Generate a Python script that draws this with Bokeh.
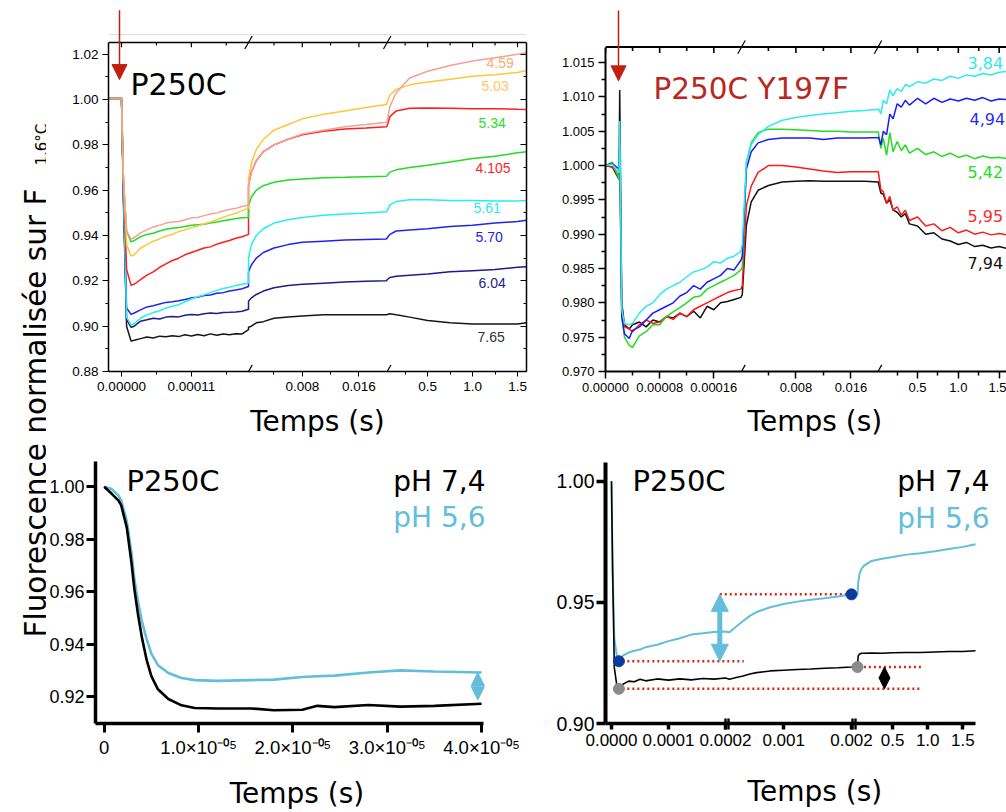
from bokeh.plotting import figure
from bokeh.models import Range1d, LinearAxis, FixedTicker, PrintfTickFormatter, Label, Arrow, NormalHead
from bokeh.layouts import row, column
from bokeh.embed import file_html
from bokeh.resources import INLINE
from bokeh.core.properties import value

# ============================ DATA ============================
# ---- top-left panel : P250C, several pH values (broken time axis, 3 segments) ----
TL_T1 = [-0.00002, 0.0, 0.000003, 0.000008, 0.000015, 0.00002, 0.00003, 0.00004, 0.00005, 0.00006,
         0.00007, 0.00008, 0.00009, 0.0001, 0.00011, 0.00012, 0.00013, 0.00014, 0.00015, 0.00016,
         0.00017, 0.00018, 0.00019, 0.0002]
TL_T2 = [0.0004, 0.0008, 0.0015, 0.0025, 0.004, 0.006, 0.008, 0.011, 0.014, 0.017, 0.0199]
TL_T3 = [0.05, 0.08, 0.15, 0.3, 0.5, 0.75, 1.0, 1.25, 1.5, 1.6]

TL_459 = [1.0005, 1.0005, 0.965, 0.942, 0.9385, 0.939, 0.9412, 0.9425, 0.9438, 0.9445, 0.9455, 0.946,
          0.9462, 0.947, 0.9478, 0.948, 0.9488, 0.9495, 0.950, 0.9508, 0.9515, 0.952, 0.9528, 0.9535,
          0.962, 0.968, 0.973, 0.977, 0.980, 0.9825, 0.9848, 0.9865, 0.988, 0.989, 0.990,
          0.9905, 0.997, 1.003, 1.0095, 1.0125, 1.015, 1.017, 1.0185, 1.020, 1.0207]
TL_503 = [1.0005, 1.0005, 0.965, 0.936, 0.931, 0.9315, 0.9345, 0.936, 0.9375, 0.9385, 0.9398, 0.9405,
          0.9418, 0.9425, 0.9435, 0.9442, 0.9452, 0.946, 0.947, 0.948, 0.949, 0.9498, 0.951, 0.952,
          0.965, 0.972, 0.978, 0.9825, 0.9865, 0.989, 0.9915, 0.9935, 0.995, 0.9965, 0.9978,
          0.999, 1.002, 1.0045, 1.0065, 1.0078, 1.009, 1.0103, 1.011, 1.012, 1.0128]
TL_534 = [1.0005, 1.0005, 0.965, 0.925, 0.918, 0.9185, 0.9205, 0.9225, 0.924, 0.926, 0.9275, 0.929,
          0.930, 0.9315, 0.9325, 0.9335, 0.9345, 0.935, 0.9362, 0.937, 0.9378, 0.9388, 0.9395, 0.9405,
          0.962, 0.968, 0.973, 0.977, 0.980, 0.9825, 0.9845, 0.986, 0.987, 0.9875, 0.988,
          0.9885, 0.9925, 0.995, 0.9962, 0.9963, 0.9962, 0.996, 0.996, 0.9957, 0.9956]
TL_4105 = [1.0005, 1.0005, 0.965, 0.942, 0.9372, 0.9378, 0.9395, 0.9405, 0.941, 0.942, 0.9428, 0.9432,
           0.9435, 0.944, 0.9445, 0.9448, 0.945, 0.9455, 0.946, 0.9465, 0.947, 0.9475, 0.9478, 0.948,
           0.953, 0.957, 0.960, 0.962, 0.9635, 0.9645, 0.965, 0.9655, 0.9657, 0.966, 0.9662,
           0.9665, 0.968, 0.969, 0.970, 0.971, 0.9725, 0.974, 0.975, 0.9765, 0.977]
TL_561 = [1.0005, 1.0005, 0.96, 0.904, 0.9005, 0.9012, 0.9035, 0.905, 0.906, 0.9068, 0.908, 0.9088,
          0.9095, 0.9108, 0.912, 0.913, 0.9138, 0.9148, 0.9158, 0.9166, 0.9172, 0.918, 0.9185, 0.919,
          0.930, 0.936, 0.940, 0.943, 0.9455, 0.947, 0.948, 0.949, 0.9495, 0.950, 0.9505,
          0.951, 0.9535, 0.955, 0.9558, 0.9558, 0.9555, 0.9555, 0.9553, 0.9553, 0.9555]
TL_570 = [1.0005, 1.0005, 0.96, 0.908, 0.9052, 0.9058, 0.9072, 0.9085, 0.909, 0.9098, 0.9105, 0.9108,
          0.9112, 0.9118, 0.9125, 0.9128, 0.9135, 0.9138, 0.9145, 0.9148, 0.9155, 0.916, 0.9165, 0.9175,
          0.924, 0.927, 0.930, 0.9325, 0.9345, 0.936, 0.937, 0.9375, 0.938, 0.9383, 0.9385,
          0.939, 0.9405, 0.942, 0.9425, 0.943, 0.944, 0.9445, 0.9455, 0.9462, 0.9468]
TL_604 = [1.0005, 1.0005, 0.958, 0.903, 0.8995, 0.900, 0.9022, 0.9028, 0.9035, 0.9032, 0.904, 0.9043,
          0.9041, 0.9048, 0.9052, 0.9049, 0.9055, 0.9058, 0.9056, 0.906, 0.9061, 0.9063, 0.9066, 0.9075,
          0.911, 0.9125, 0.914, 0.9155, 0.917, 0.918, 0.9185, 0.919, 0.9195, 0.9198, 0.920,
          0.9205, 0.9215, 0.922, 0.9225, 0.923, 0.924, 0.9245, 0.925, 0.926, 0.9262]
TL_765 = [1.0005, 1.0005, 0.955, 0.900, 0.8935, 0.8938, 0.8945, 0.8952, 0.8948, 0.8956, 0.8953, 0.8958,
          0.8954, 0.8962, 0.8957, 0.8963, 0.8958, 0.8966, 0.896, 0.8965, 0.8962, 0.8967, 0.8966, 0.8985,
          0.8995, 0.900, 0.9015, 0.902, 0.9035, 0.904, 0.9045, 0.905, 0.905, 0.905, 0.905,
          0.9052, 0.9055, 0.905, 0.904, 0.9025, 0.9015, 0.901, 0.901, 0.901, 0.9015]
TL_LABELS = ["4.59", "5.03", "5.34", "4.105", "5.61", "5.70", "6.04", "7.65"]
TL_YTICKS = [0.88, 0.90, 0.92, 0.94, 0.96, 0.98, 1.00, 1.02]
TL_YMINOR = [0.89, 0.91, 0.93, 0.95, 0.97, 0.99, 1.01]
TL_XTICKS = [(0, 0.0, "0.00000"), (0, 0.00011, "0.00011"), (1, 0.008, "0.008"), (1, 0.016, "0.016"),
             (2, 0.5, "0.5"), (2, 1.0, "1.0"), (2, 1.5, "1.5")]
TL_XMINOR = [(0, 0.000055), (0, 0.000165), (1, 0.004), (1, 0.012), (2, 0.25), (2, 0.75), (2, 1.25)]

# ---- top-right panel : P250C Y197F ----
TR_T1 = [0.0, 0.00001, 0.00002, 0.000021, 0.000024, 0.000028, 0.000035, 0.00004, 0.00005, 0.00006,
         0.00007, 0.00008, 0.00009, 0.0001, 0.00011, 0.00012, 0.00013, 0.00014, 0.00015, 0.00016,
         0.00017, 0.00018, 0.00019, 0.0002]
TR_T2 = [0.0002, 0.0008, 0.0015, 0.0025, 0.004, 0.006, 0.008, 0.01, 0.012, 0.014, 0.016, 0.018, 0.02]
TR_T3 = [0.02, 0.05, 0.08, 0.12, 0.16, 0.2, 0.25, 0.3, 0.35, 0.4, 0.5, 0.6, 0.7, 0.8, 0.9, 1.0,
         1.1, 1.2, 1.3, 1.4, 1.5, 1.6]
TR_384 = [1.000, 1.0002, 0.999, 1.0065, 0.979, 0.977, 0.9768, 0.977, 0.9785, 0.9795, 0.980, 0.9812,
          0.982, 0.9825, 0.983, 0.9838, 0.9845, 0.9848, 0.9852, 0.986, 0.9858, 0.9865, 0.9868, 0.9875,
          0.9885, 1.0005, 1.003, 1.0045, 1.0057, 1.0066, 1.007, 1.0073, 1.0075, 1.0077, 1.0079, 1.008, 1.0082,
          1.0083, 1.0075, 1.0095, 1.009, 1.011, 1.0102, 1.0112, 1.0108, 1.0118, 1.0115, 1.0122, 1.012,
          1.0126, 1.0124, 1.013, 1.0127, 1.0132, 1.013, 1.0134, 1.0132, 1.0136, 1.0137]
TR_494 = [1.000, 1.0003, 0.9995, 1.003, 0.978, 0.9755, 0.9748, 0.976, 0.9765, 0.9775, 0.9785, 0.979,
          0.9795, 0.980, 0.981, 0.9815, 0.9825, 0.982, 0.983, 0.9835, 0.984, 0.985, 0.9848, 0.9862,
          0.9868, 0.9995, 1.002, 1.0033, 1.0038, 1.004, 1.004, 1.004, 1.0038, 1.004, 1.004, 1.004, 1.0041,
          1.0042, 1.003, 1.005, 1.0045, 1.0075, 1.0068, 1.009, 1.0085, 1.0095, 1.0088, 1.0098, 1.009,
          1.0098, 1.0092, 1.0097, 1.0094, 1.0098, 1.0095, 1.0099, 1.0094, 1.0097, 1.0096]
TR_542 = [1.000, 1.0005, 0.998, 1.002, 0.978, 0.975, 0.9738, 0.9735, 0.9752, 0.9758, 0.9768, 0.9768,
          0.978, 0.9787, 0.9793, 0.980, 0.9808, 0.981, 0.982, 0.9825, 0.983, 0.9835, 0.984, 0.9848,
          0.9852, 1.0005, 1.0033, 1.0048, 1.0053, 1.0053, 1.0052, 1.0051, 1.005, 1.005, 1.0049, 1.0049, 1.0049,
          1.0048, 1.0025, 1.004, 1.0015, 1.0048, 1.002, 1.0035, 1.0022, 1.003, 1.0018, 1.0025, 1.0016,
          1.002, 1.0013, 1.0018, 1.0012, 1.0015, 1.001, 1.0014, 1.0011, 1.0012, 1.001]
TR_595 = [1.000, 0.9998, 0.9985, 1.003, 0.979, 0.9765, 0.9762, 0.9758, 0.9768, 0.9775, 0.977, 0.9772,
          0.978, 0.9776, 0.9785, 0.978, 0.979, 0.9795, 0.980, 0.9805, 0.981, 0.9815, 0.9818, 0.982,
          0.9825, 0.9942, 0.997, 0.999, 1.000, 1.000, 0.9998, 0.9995, 0.9992, 0.999, 0.9991, 0.9991, 0.9991,
          0.999, 0.9965, 0.9962, 0.9945, 0.9955, 0.9935, 0.994, 0.9928, 0.9935, 0.992, 0.9925, 0.9912,
          0.9915, 0.9905, 0.991, 0.9902, 0.9906, 0.990, 0.9903, 0.9899, 0.9901, 0.9899]
TR_794 = [1.000, 0.9998, 0.998, 1.011, 0.980, 0.9768, 0.9762, 0.9768, 0.9772, 0.9765, 0.9775, 0.9772,
          0.978, 0.9778, 0.9785, 0.978, 0.9788, 0.9778, 0.9795, 0.979, 0.980, 0.9802, 0.9805, 0.9808,
          0.9812, 0.9913, 0.9947, 0.9964, 0.9971, 0.9976, 0.9977, 0.9978, 0.9977, 0.9977, 0.9977, 0.9977, 0.9976,
          0.9975, 0.996, 0.9958, 0.9945, 0.995, 0.9935, 0.9932, 0.9925, 0.993, 0.9915, 0.9912, 0.990,
          0.9902, 0.9893, 0.989, 0.9885, 0.9888, 0.9882, 0.9884, 0.988, 0.9882, 0.9879]
TR_LABELS = ["3,84", "4,94", "5,42", "5,95", "7,94"]
TR_YTICKS = [0.970, 0.975, 0.980, 0.985, 0.990, 0.995, 1.000, 1.005, 1.010, 1.015]
TR_YMINOR = [0.9725, 0.9775, 0.9825, 0.9875, 0.9925, 0.9975, 1.0025, 1.0075, 1.0125]
TR_XTICKS = [(0, 0.0, "0.00000"), (0, 0.00008, "0.00008"), (0, 0.00016, "0.00016"),
             (1, 0.008, "0.008"), (1, 0.016, "0.016"), (2, 0.5, "0.5"), (2, 1.0, "1.0"), (2, 1.5, "1.5")]
TR_XMINOR = [(0, 0.00004), (0, 0.00012), (1, 0.004), (1, 0.012), (2, 0.25), (2, 0.75), (2, 1.25)]

# ---- bottom-left panel : P250C, first 40 us ----
BL_T = [0.0, 0.8e-6, 1.5e-6, 1.8e-6, 2.4e-6, 2.9e-6, 3.2e-6, 3.6e-6, 4.0e-6, 4.5e-6, 5.0e-6, 5.7e-6,
        6.8e-6, 8.2e-6, 9.6e-6, 1.2e-5, 1.56e-5, 1.8e-5, 2.1e-5, 2.26e-5, 2.44e-5, 2.8e-5, 3.14e-5,
        3.5e-5, 4.0e-5]
BL_PH74 = [1.000, 0.9973, 0.9948, 0.993, 0.9844, 0.9708, 0.961, 0.951, 0.9425, 0.934, 0.9278, 0.9228,
           0.9191, 0.9167, 0.9157, 0.9155, 0.9155, 0.9148, 0.9150, 0.9165, 0.916, 0.9168, 0.9162,
           0.9165, 0.9173]
BL_PH56 = [1.000, 0.9991, 0.9967, 0.9948, 0.9868, 0.9745, 0.9647, 0.956, 0.9487, 0.9419, 0.9364, 0.932,
           0.929, 0.9271, 0.9263, 0.926, 0.9263, 0.9265, 0.9275, 0.9278, 0.928, 0.9292, 0.930, 0.9296,
           0.9292]
BL_XTICKS = [0.0, 1e-5, 2e-5, 3e-5, 4e-5]
BL_XLABELS = ["0", "1.0×10⁻⁰⁵", "2.0×10⁻⁰⁵", "3.0×10⁻⁰⁵", "4.0×10⁻⁰⁵"]
BL_YTICKS = [0.92, 0.94, 0.96, 0.98, 1.00]

# ---- bottom-right panel : P250C, full broken time axis ----
BR_T1 = [0.0, 0.000002, 0.000005, 0.00001, 0.000013, 0.00002, 0.00003, 0.00004, 0.00005, 0.00006,
         0.00008, 0.0001, 0.00012, 0.00014, 0.00016, 0.00018, 0.0002]
BR_T2 = [0.0002, 0.0003, 0.0004, 0.0005, 0.0006, 0.0008, 0.001, 0.0012, 0.0014, 0.0016, 0.0018, 0.002]
BR_T3 = [0.0, 0.01, 0.03, 0.06, 0.1, 0.2, 0.35, 0.5, 0.7, 0.9, 1.1, 1.3, 1.5, 1.68]
BR_PH74 = [1.000, 0.963, 0.923, 0.9147, 0.9143, 0.9162, 0.9175, 0.9172, 0.9183, 0.9176, 0.9184, 0.9179,
           0.9184, 0.918, 0.9186, 0.9183, 0.9188,
           0.9183, 0.919, 0.9196, 0.9204, 0.921, 0.9217, 0.922, 0.9223, 0.9225, 0.9228, 0.923, 0.9233,
           0.9235, 0.928, 0.9287, 0.929, 0.929, 0.9291, 0.929, 0.9292, 0.9293, 0.9293, 0.9295, 0.9297,
           0.9297, 0.930]
BR_PH56 = [1.000, 0.963, 0.935, 0.927, 0.9257, 0.928, 0.9293, 0.930, 0.9305, 0.9315, 0.9325, 0.934,
           0.9352, 0.9367, 0.9372, 0.9378, 0.938,
           0.9377, 0.940, 0.9423, 0.9444, 0.946, 0.948, 0.9493, 0.9503, 0.9511, 0.9517, 0.9524, 0.9533,
           0.9533, 0.958, 0.962, 0.964, 0.9653, 0.9671, 0.968, 0.9687, 0.9697, 0.9703, 0.9711, 0.972,
           0.9729, 0.974]
# marked points: (segment, time, value)
BR_DOTS_56 = [(0, 0.000013, 0.9257), (1, 0.002, 0.9533)]
BR_DOTS_74 = [(0, 0.000013, 0.9143), (2, 0.0, 0.9233)]
# dotted reference levels: (value, (segment, t start), (segment, t end))
BR_REFS = [(0.9257, (0, 0.000019), (1, 0.00041)), (0.9533, (0, 0.00019), (1, 0.002)),
           (0.9143, (0, 0.000019), (2, 0.9)), (0.9233, (2, 0.02), (2, 0.92))]
BR_XTICKS = [(0, 0.0, "0.0000"), (0, 0.0001, "0.0001"), (0, 0.0002, "0.0002"), (1, 0.001, "0.001"),
             (1, 0.002, "0.002"), (2, 0.5, "0.5"), (2, 1.0, "1.0"), (2, 1.5, "1.5")]
BR_YTICKS = [0.90, 0.95, 1.00]

# ============================ STYLE / GEOMETRY ============================
SANS = "Liberation Sans"
GOTH = "DejaVu Sans"
DARKRED = "#c0200f"
LBLUE = "#62bedb"
XTITLE = "Temps (s)"

# axis segments: (t0, t1, display start, display end); display unit = one frame pixel
TL_SEGS = [(-0.0000205, 0.0002, 0.0, 140.0), (0.0004, 0.02, 140.0, 278.7), (0.05, 1.6, 278.7, 418.0)]
TR_SEGS = [(0.0, 0.0002, 0.0, 135.4), (0.0, 0.02, 135.4, 272.9), (0.02, 1.6, 272.9, 401.8)]
BR_SEGS = [(-0.0000105, 0.0002, 0.0, 120.0), (0.0002, 0.002, 124.0, 246.0), (0.0, 1.68, 252.0, 370.0)]


def seg_map(segs, i, t):
    t0, t1, d0, d1 = segs[i]
    return d0 + (t - t0) * (d1 - d0) / (t1 - t0)


def seg_xs(segs, grids):
    xs = []
    for i, g in enumerate(grids):
        xs.extend(seg_map(segs, i, t) for t in g)
    return xs


class Frame:
    """Plot frame placed on the page: left/top/width/height in page pixels, plus its data ranges."""
    def __init__(self, left, top, w, h, xr, yr):
        self.left, self.top, self.w, self.h, self.xr, self.yr = left, top, w, h, xr, yr

    def x(self, px):
        return self.xr[0] + (px - self.left) / self.w * (self.xr[1] - self.xr[0])

    def y(self, py):
        return self.yr[1] - (py - self.top) / self.h * (self.yr[1] - self.yr[0])

    def dy(self, npx):
        return npx * (self.yr[1] - self.yr[0]) / self.h


def make_fig(width, height, fr, fig_left, fig_top):
    p = figure(width=width, height=height, x_range=Range1d(*fr.xr), y_range=Range1d(*fr.yr),
               output_backend="svg", toolbar_location=None, x_axis_type=None, y_axis_type=None,
               min_border_left=int(round(fr.left - fig_left)), min_border_top=int(round(fr.top - fig_top)),
               min_border_right=int(round(fig_left + width - fr.left - fr.w)),
               min_border_bottom=int(round(fig_top + height - fr.top - fr.h)))
    p.outline_line_color = None
    p.background_fill_color = "white"
    p.border_fill_color = "white"
    return p


def add_axis(p, place, ticks, minor=None, overrides=None, fmt=None, size="13px", lw=1.5,
             t_in=0, t_out=0, m_in=0, m_out=0, tw=1.0, mw=None, standoff=4, labels=True,
             bounds=None, title=None, title_standoff=0):
    ax = LinearAxis(ticker=FixedTicker(ticks=ticks, minor_ticks=minor or []))
    if fmt is not None:
        ax.formatter = PrintfTickFormatter(format=fmt)
    if not labels:
        overrides = {t: "" for t in ticks}
        size = "0px"
        standoff = 0
    if overrides:
        ax.major_label_overrides = overrides
    if bounds is not None:
        ax.bounds = bounds
    ax.axis_line_width = lw
    ax.axis_line_color = "black"
    ax.major_tick_in, ax.major_tick_out = t_in, t_out
    ax.minor_tick_in, ax.minor_tick_out = m_in, m_out
    ax.major_tick_line_width = tw
    ax.minor_tick_line_width = tw if mw is None else mw
    ax.major_tick_line_color = "black"
    ax.minor_tick_line_color = "black"
    ax.major_label_text_font = SANS
    ax.major_label_text_font_size = size
    ax.major_label_text_color = "black"
    ax.major_label_standoff = standoff
    if title:
        ax.axis_label = title
        ax.axis_label_text_font = GOTH
        ax.axis_label_text_font_size = "28px"
        ax.axis_label_text_font_style = "normal"
        ax.axis_label_text_color = "black"
        ax.axis_label_standoff = title_standoff
    p.add_layout(ax, place)
    return ax


def top_edge(p, fr, y_line, d0, d1, ticks, minors, maj_px, min_px, lw):
    """Upper edge of the plot box with its inward ticks."""
    p.segment(x0=[d0], y0=[y_line], x1=[d1], y1=[y_line], line_color="black", line_width=lw)
    p.segment(x0=ticks, y0=[y_line] * len(ticks), x1=ticks, y1=[y_line - fr.dy(maj_px)] * len(ticks),
              line_color="black", line_width=lw * 0.8)
    p.segment(x0=minors, y0=[y_line] * len(minors), x1=minors, y1=[y_line - fr.dy(min_px)] * len(minors),
              line_color="black", line_width=lw * 0.8)


def seg_ticks(segs, ticks):
    pos = [round(seg_map(segs, i, t), 3) for i, t, _ in ticks]
    return pos, {pp: lab for pp, (_, _, lab) in zip(pos, ticks)}


def text_label(p, x, y, txt, size, color="black", font=GOTH, align="left", angle=0.0):
    p.add_layout(Label(x=x, y=y, text=txt, text_font=font, text_font_size=size, text_color=color,
                       text_align=align, text_baseline="alphabetic", angle=angle, angle_units="deg"))


def head_arrow(p, x0, y0, x1, y1, color, width, size, both=False):
    start = NormalHead(size=size, fill_color=color, line_color=color) if both else None
    p.add_layout(Arrow(start=start, end=NormalHead(size=size, fill_color=color, line_color=color),
                       x_start=x0, y_start=y0, x_end=x1, y_end=y1, line_color=color, line_width=width))


def slash(p, fr, px, py, color="black"):
    p.segment(x0=[fr.x(px - 3.7)], y0=[fr.y(py + 6.7)], x1=[fr.x(px + 3.7)], y1=[fr.y(py - 6.7)],
              line_color=color, line_width=1.2)


# ============================ TOP-LEFT ============================
ftl = Frame(108, 0, 418, 380, (0.0, 418.0), (0.88, 1.04373))
tl = make_fig(504, 440, ftl, 46, 0)
TL_TOP = ftl.y(43)
tl_x = seg_xs(TL_SEGS, [TL_T1, TL_T2, TL_T3])
TL_COLORS = ["#f6a096", "#ffc63c", "#1fdf1f", "#ff1e1e", "#25eeee", "#2222ee", "#1c1c8a", "#161616"]
for ys, c in zip([TL_765, TL_604, TL_570, TL_561, TL_534, TL_4105, TL_503, TL_459], TL_COLORS[::-1]):
    tl.line(tl_x, ys, line_color=c, line_width=1.5)
tl_pos, tl_over = seg_ticks(TL_SEGS, TL_XTICKS)
tl_minor = [round(seg_map(TL_SEGS, i, t), 3) for i, t in TL_XMINOR]
add_axis(tl, "below", tl_pos, tl_minor, overrides=tl_over, size="13.5px", t_out=5, m_out=3, standoff=5,
         title=XTITLE, title_standoff=11)
add_axis(tl, "left", TL_YTICKS, TL_YMINOR, fmt="%.2f", size="13.5px", t_out=6, m_out=3, standoff=4,
         bounds=(0.88, TL_TOP))
add_axis(tl, "right", TL_YTICKS, TL_YMINOR, labels=False, t_in=6, m_in=3, bounds=(0.88, TL_TOP))
top_edge(tl, ftl, TL_TOP, 0.0, 418.0, tl_pos, tl_minor, 5, 3, 1.5)
tl.segment(x0=[0.0], y0=[ftl.y(35)], x1=[418.0], y1=[ftl.y(35)], line_color="#d9d9d9", line_width=1)
TL_LAB_COLORS = ["#f8ae6c", "#ffc85c", "#1fdf1f", "#ff1e1e", "#2ee6f0", "#2222ee", "#1c1c8a", "#333333"]
TL_LAB_PX = [(486, 64), (481, 88), (478, 125), (475, 172), (473, 213), (475, 242), (478, 289), (477, 345)]
tl.text(x=[ftl.x(a) for a, _ in TL_LAB_PX], y=[ftl.y(b) for _, b in TL_LAB_PX], text=TL_LABELS,
        text_color=TL_LAB_COLORS, text_font=value(SANS), text_font_size=value("14px"),
        text_baseline="middle", text_align="left")
for bx in (248.0, 386.7):
    for by in (43, 380):
        slash(tl, ftl, bx, by)
head_arrow(tl, ftl.x(119), ftl.y(10), ftl.x(119), ftl.y(81), DARKRED, 1.5, 15)
text_label(tl, ftl.x(130), ftl.y(86), "P250C", "30px")

# ============================ TOP-RIGHT ============================
ftr = Frame(605, 0, 401, 374, (0.0, 401.0), (0.970, 1.02404))
tr = make_fig(456, 440, ftr, 550, 0)
TR_TOP = ftr.y(47)
tr_x = seg_xs(TR_SEGS, [TR_T1, TR_T2, TR_T3])
TR_COLORS = ["#2ee8f2", "#1a1aff", "#22dd22", "#ff1a1a", "#111111"]
for ys, c in zip([TR_794, TR_595, TR_542, TR_494, TR_384], TR_COLORS[::-1]):
    tr.line(tr_x, ys, line_color=c, line_width=1.5)
tr_pos, tr_over = seg_ticks(TR_SEGS, TR_XTICKS)
tr_minor = [round(seg_map(TR_SEGS, i, t), 3) for i, t in TR_XMINOR]
add_axis(tr, "below", tr_pos, tr_minor, overrides=tr_over, size="13px", lw=2, t_out=7, m_out=4,
         tw=1.5, standoff=4, title="\u00a0\u00a0" + XTITLE, title_standoff=10)
add_axis(tr, "left", TR_YTICKS, TR_YMINOR, fmt="%.3f", size="13px", lw=2, t_out=7, m_out=4,
         tw=1.5, standoff=4, bounds=(0.970, TR_TOP))
top_edge(tr, ftr, TR_TOP, 0.0, 401.0, tr_pos, tr_minor, 6, 4, 2)
TR_LAB_PX = [(967, 63), (969, 119), (967, 173), (967, 217), (967, 265)]
tr.text(x=[ftr.x(a) for a, _ in TR_LAB_PX], y=[ftr.y(b) for _, b in TR_LAB_PX], text=TR_LABELS,
        text_color=["#33e6f0", "#2a2aff", "#22dd22", "#ff2a2a", "#111111"], text_font=value(GOTH),
        text_font_size=value("16px"), text_baseline="middle", text_align="left")
for bx in (741.0, 877.5):
    for by in (47, 374):
        slash(tr, ftr, bx, by)
head_arrow(tr, ftr.x(618), ftr.y(10), ftr.x(618), ftr.y(81), DARKRED, 1.5, 15)
text_label(tr, ftr.x(653), ftr.y(89.5), "P250C Y197F", "29.5px", color="#b8291d")

# ============================ BOTTOM-LEFT ============================
fbl = Frame(94, 440, 404, 292, (-9.2e-7, 4.1795e-5), (0.90977, 1.01762))
bl = make_fig(504, 372, fbl, 46, 440)
bl.line(BL_T, BL_PH56, line_color=LBLUE, line_width=2.6)
bl.line(BL_T, BL_PH74, line_color="black", line_width=2.6)
add_axis(bl, "below", BL_XTICKS, overrides=dict(zip(BL_XTICKS, BL_XLABELS)), size="18.5px", lw=3.5,
         t_out=9, tw=3, standoff=4, bounds=(-9.2e-7, 4.021e-5), title=XTITLE, title_standoff=16)
add_axis(bl, "left", BL_YTICKS, fmt="%.2f", size="18px", lw=3.5, t_out=9, tw=3, standoff=2,
         bounds=(0.90977, fbl.y(462)))
head_arrow(bl, 3.96e-5, BL_PH56[-1], 3.96e-5, BL_PH74[-1] + 0.0015, LBLUE, 3.5, 13, both=True)
text_label(bl, fbl.x(125), fbl.y(482), "P250C", "29px")
text_label(bl, fbl.x(485), fbl.y(482), "pH 7,4", "28px", align="right")
text_label(bl, fbl.x(485), fbl.y(519.5), "pH 5,6", "28px", color=LBLUE, align="right")

# ============================ BOTTOM-RIGHT ============================
fbr = Frame(605, 440, 401, 292, (0.0, 401.0), (0.90, 1.0168))
br = make_fig(456, 372, fbr, 550, 440)
br_x = seg_xs(BR_SEGS, [BR_T1, BR_T2, BR_T3])
for lev, (s0, t0), (s1, t1) in BR_REFS:
    br.line([seg_map(BR_SEGS, s0, t0), seg_map(BR_SEGS, s1, t1)], [lev, lev], line_color="#d02a14",
            line_width=2.5, line_dash="2 3")
br.line(br_x, BR_PH56, line_color=LBLUE, line_width=2)
br.line(br_x, BR_PH74, line_color="black", line_width=1.6)
br.scatter([seg_map(BR_SEGS, s, t) for s, t, _ in BR_DOTS_56], [v for _, _, v in BR_DOTS_56],
           size=11, fill_color="#0b3a9c", line_color="#0b3a9c")
br.scatter([seg_map(BR_SEGS, s, t) for s, t, _ in BR_DOTS_74], [v for _, _, v in BR_DOTS_74],
           size=11, fill_color="#8a8a8a", line_color="#8a8a8a")
xa = seg_map(BR_SEGS, 0, 0.00019)
head_arrow(br, xa, BR_DOTS_56[0][2], xa, BR_DOTS_56[1][2], LBLUE, 5, 17, both=True)
xb = seg_map(BR_SEGS, 2, 0.384)
head_arrow(br, xb, BR_DOTS_74[0][2], xb, BR_DOTS_74[1][2], "black", 3.5, 11, both=True)
br_pos, br_over = seg_ticks(BR_SEGS, BR_XTICKS)
BR_BREAKS = [119.5, 122.5, 246.5, 249.5]   # "||" axis-break bars, drawn as crossing minor ticks
add_axis(br, "below", br_pos, BR_BREAKS, overrides=br_over, size="17px", lw=3.5, t_out=6, tw=3.5,
         m_in=5, m_out=6, mw=2.4, standoff=4, bounds=(0.0, 370.0),
         title="\u00a0\u00a0" + XTITLE, title_standoff=26)
add_axis(br, "left", BR_YTICKS, fmt="%.2f", size="19.5px", lw=4, t_out=9, tw=3.5, standoff=2,
         bounds=(0.90, fbr.y(463)))
text_label(br, fbr.x(632), fbr.y(482), "P250C", "29px")
text_label(br, fbr.x(989), fbr.y(482), "pH 7,4", "28px", align="right")
text_label(br, fbr.x(989), fbr.y(520), "pH 5,6", "28px", color=LBLUE, align="right")

# ============================ SHARED Y LABEL ============================
flb = Frame(0, 0, 46, 812, (0.0, 46.0), (0.0, 812.0))
lb = make_fig(46, 812, flb, 0, 0)
text_label(lb, flb.x(35.5), flb.y(637), "Fluorescence normalisée sur F", "29.5px", angle=90)
text_label(lb, flb.x(41.5), flb.y(165), "1,6°C", "15px", angle=90)

layout = row(lb, column(row(tl, tr), row(bl, br)))
open("out.html", "w").write(file_html(layout, INLINE, "Fluorescence"))
